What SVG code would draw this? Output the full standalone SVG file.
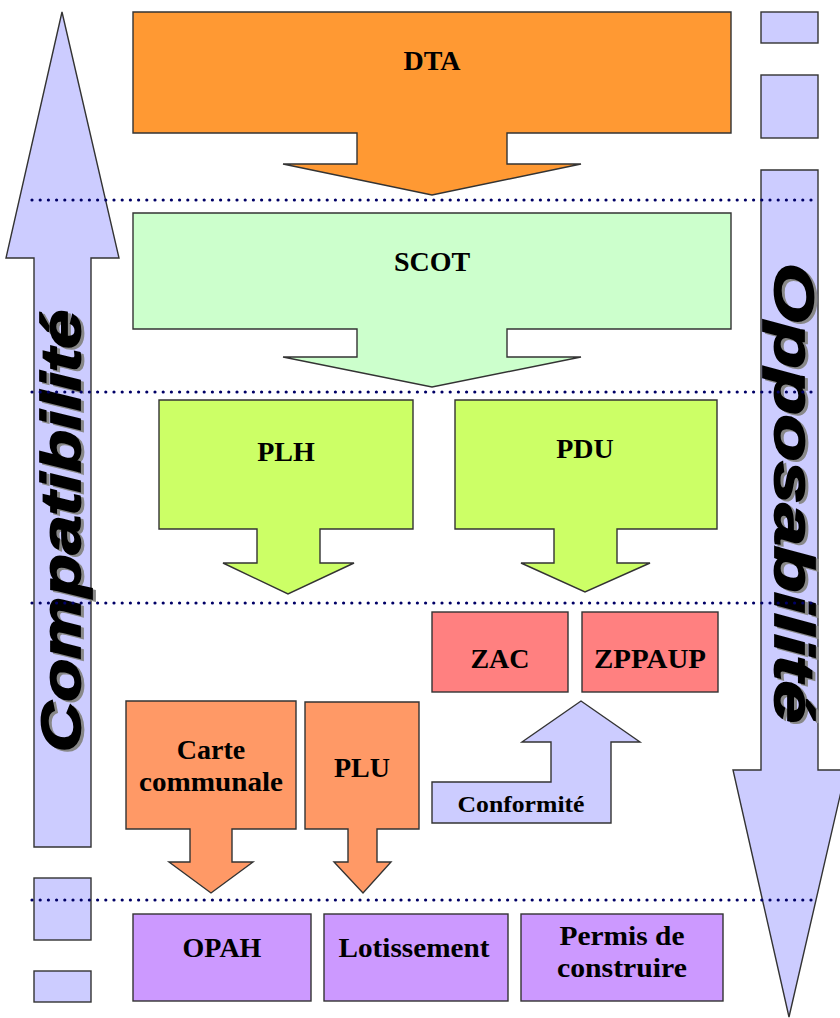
<svg xmlns="http://www.w3.org/2000/svg" width="840" height="1018" viewBox="0 0 840 1018">
<style>
.shp{stroke:#333;stroke-width:1.4;stroke-linejoin:miter}
.blue{fill:#CCCCFF}
.lbl{font-family:"Liberation Serif","Times New Roman",serif;font-weight:bold;font-size:28px;fill:#000;text-anchor:middle}
.vt{font-family:"Liberation Sans",Arial,sans-serif;font-weight:bold;font-style:italic;font-size:56px;text-anchor:middle;stroke-width:1.8}
.dots{stroke:#000066;stroke-width:3.2;stroke-linecap:round;stroke-dasharray:0 8.2;fill:none}
</style>
<rect width="840" height="1018" fill="#fff"/>
<g id="compatibilite">
<polygon class="shp blue" points="62,12 119,258 91,258 91,847 34,847 34,258 6,258"/>
<rect class="shp blue" x="34" y="878" width="57" height="62"/>
<rect class="shp blue" x="34" y="971" width="57" height="31"/>
<text class="vt" transform="translate(83,533) rotate(-90)" fill="#888" stroke="#888" textLength="442" lengthAdjust="spacingAndGlyphs">Compatibilité</text>
<text class="vt" transform="translate(80,531) rotate(-90)" fill="#000" stroke="#000" textLength="442" lengthAdjust="spacingAndGlyphs">Compatibilité</text>
</g>
<g id="opposabilite">
<rect class="shp blue" x="761" y="12" width="57" height="31"/>
<rect class="shp blue" x="761" y="75" width="57" height="63"/>
<polygon class="shp blue" points="761,170 818,170 818,770 846,770 789,1017 733,770 761,770"/>
<text class="vt" transform="translate(778,495) rotate(90)" fill="#888" stroke="#888" textLength="460" lengthAdjust="spacingAndGlyphs">Opposabilité</text>
<text class="vt" transform="translate(775,493) rotate(90)" fill="#000" stroke="#000" textLength="460" lengthAdjust="spacingAndGlyphs">Opposabilité</text>
</g>
<g id="DTA">
<polygon class="shp" fill="#FF9933" points="133,12 731,12 731,133 507,133 507,164 581,164 432,195 283,164 357,164 357,133 133,133"/>
<text class="lbl" x="432" y="70">DTA</text>
</g>
<g id="SCOT">
<polygon class="shp" fill="#CCFFCC" points="133,213 731,213 731,329 507,329 507,357 581,357 432,387 283,357 357,357 357,329 133,329"/>
<text class="lbl" x="432" y="271">SCOT</text>
</g>
<g id="PLH">
<polygon class="shp" fill="#CCFF66" points="159,400 413,400 413,529 320,529 320,563 354,563 288,594 223,563 257,563 257,529 159,529"/>
<text class="lbl" x="286" y="461">PLH</text>
</g>
<g id="PDU">
<polygon class="shp" fill="#CCFF66" points="455,400 717,400 717,529 617,529 617,563 650,563 585,592 521,563 554,563 554,529 455,529"/>
<text class="lbl" x="585" y="458">PDU</text>
</g>
<g id="ZAC">
<rect class="shp" fill="#FF8080" x="432" y="612" width="136" height="80"/>
<text class="lbl" x="500" y="668">ZAC</text>
</g>
<g id="ZPPAUP">
<rect class="shp" fill="#FF8080" x="582" y="612" width="136" height="80"/>
<text class="lbl" x="650" y="668" textLength="112" lengthAdjust="spacingAndGlyphs">ZPPAUP</text>
</g>
<g id="conformite">
<polygon class="shp blue" points="432,782 551,782 551,742 522,742 581,701 640,742 611,742 611,823 432,823"/>
<text class="lbl" x="521" y="812" style="font-size:24px" textLength="127" lengthAdjust="spacingAndGlyphs">Conformité</text>
</g>
<g id="carte">
<polygon class="shp" fill="#FF9966" points="126,701 296,701 296,829 232,829 232,862 253,862 211,893 169,862 190,862 190,829 126,829"/>
<text class="lbl" x="211" y="759">Carte</text>
<text class="lbl" x="211" y="791" textLength="144" lengthAdjust="spacingAndGlyphs">communale</text>
</g>
<g id="PLU">
<polygon class="shp" fill="#FF9966" points="305,702 419,702 419,829 377,829 377,862 391,862 363,893 334,862 348,862 348,829 305,829"/>
<text class="lbl" x="362" y="777">PLU</text>
</g>
<g id="OPAH">
<rect class="shp" fill="#CC99FF" x="133" y="914" width="178" height="87"/>
<text class="lbl" x="222" y="957">OPAH</text>
</g>
<g id="lotissement">
<rect class="shp" fill="#CC99FF" x="324" y="914" width="184" height="87"/>
<text class="lbl" x="414" y="957" textLength="151" lengthAdjust="spacingAndGlyphs">Lotissement</text>
</g>
<g id="permis">
<rect class="shp" fill="#CC99FF" x="521" y="914" width="202" height="87"/>
<text class="lbl" x="622" y="945" textLength="125" lengthAdjust="spacingAndGlyphs">Permis de</text>
<text class="lbl" x="622" y="977" textLength="130" lengthAdjust="spacingAndGlyphs">construire</text>
</g>
<g id="connectors">
<line class="dots" x1="32" y1="200" x2="812" y2="200"/>
<line class="dots" x1="32" y1="392" x2="812" y2="392"/>
<line class="dots" x1="32" y1="603" x2="812" y2="603"/>
<line class="dots" x1="32" y1="900" x2="812" y2="900"/>
</g>
</svg>
